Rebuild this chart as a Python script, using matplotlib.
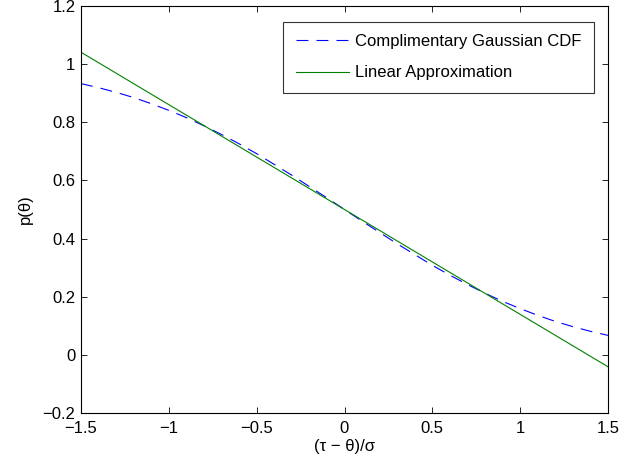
import matplotlib
matplotlib.use("Agg")
import matplotlib.pyplot as plt

plt.rcParams['font.family'] = ['Liberation Sans', 'DejaVu Sans']
plt.rcParams['lines.scale_dashes'] = False

# Complementary Gaussian CDF
x_cdf = [-1.5, -1.4, -1.3, -1.2, -1.1, -1.0, -0.9, -0.8, -0.7, -0.6, -0.5, -0.4, -0.3, -0.2, -0.1,
         0.0, 0.1, 0.2, 0.3, 0.4, 0.5, 0.6, 0.7, 0.8, 0.9, 1.0, 1.1, 1.2, 1.3, 1.4, 1.5]
y_cdf = [0.933, 0.919, 0.903, 0.885, 0.864, 0.841, 0.816, 0.788, 0.758, 0.726, 0.692, 0.655, 0.618, 0.579, 0.540,
         0.500, 0.460, 0.421, 0.382, 0.345, 0.308, 0.274, 0.242, 0.212, 0.184, 0.159, 0.136, 0.115, 0.097, 0.081, 0.067]

# Linear approximation (endpoints)
x_lin = [-1.5, 1.5]
y_lin = [1.041, -0.041]

xticks = [-1.5, -1, -0.5, 0, 0.5, 1, 1.5]
xtick_labels = ['\u22121.5', '\u22121', '\u22120.5', '0', '0.5', '1', '1.5']
yticks = [-0.2, 0, 0.2, 0.4, 0.6, 0.8, 1, 1.2]
ytick_labels = ['\u22120.2', '0', '0.2', '0.4', '0.6', '0.8', '1', '1.2']

FS = 12

fig = plt.figure(figsize=(6.39, 4.66), dpi=100)
ax = fig.add_axes([81/639, 53/466, 527/639, 407/466])

ax.plot(x_cdf, y_cdf, color='#0000ff', linewidth=0.8, dashes=(8.6, 5.8),
        label='Complimentary Gaussian CDF')
ax.plot(x_lin, y_lin, color='#008000', linewidth=0.8, label='Linear Approximation')

ax.set_xlim(-1.5, 1.5)
ax.set_ylim(-0.2, 1.2)
ax.set_xticks(xticks)
ax.set_xticklabels(xtick_labels)
ax.set_yticks(yticks)
ax.set_yticklabels(ytick_labels)
ax.tick_params(direction='in', top=True, right=True, length=4, width=0.6,
               labelsize=FS)
ax.tick_params(axis='x', pad=5.5)
ax.tick_params(axis='y', pad=4)
for s in ax.spines.values():
    s.set_linewidth(0.8)

ax.set_xlabel('(\u03c4 \u2212 \u03b8)/\u03c3', fontsize=FS, labelpad=2.5)
ax.set_ylabel('p(\u03b8)', fontsize=FS, labelpad=7)

leg = ax.legend(loc='upper right', bbox_to_anchor=(594/639, 1 - 21.7/466),
                bbox_transform=fig.transFigure, fontsize=FS, frameon=True,
                fancybox=False, edgecolor='black', borderpad=0.75,
                handlelength=3.2, handletextpad=0.36, labelspacing=0.97,
                borderaxespad=0)
leg.get_frame().set_linewidth(0.8)

fig.savefig('out.png', dpi=100)
